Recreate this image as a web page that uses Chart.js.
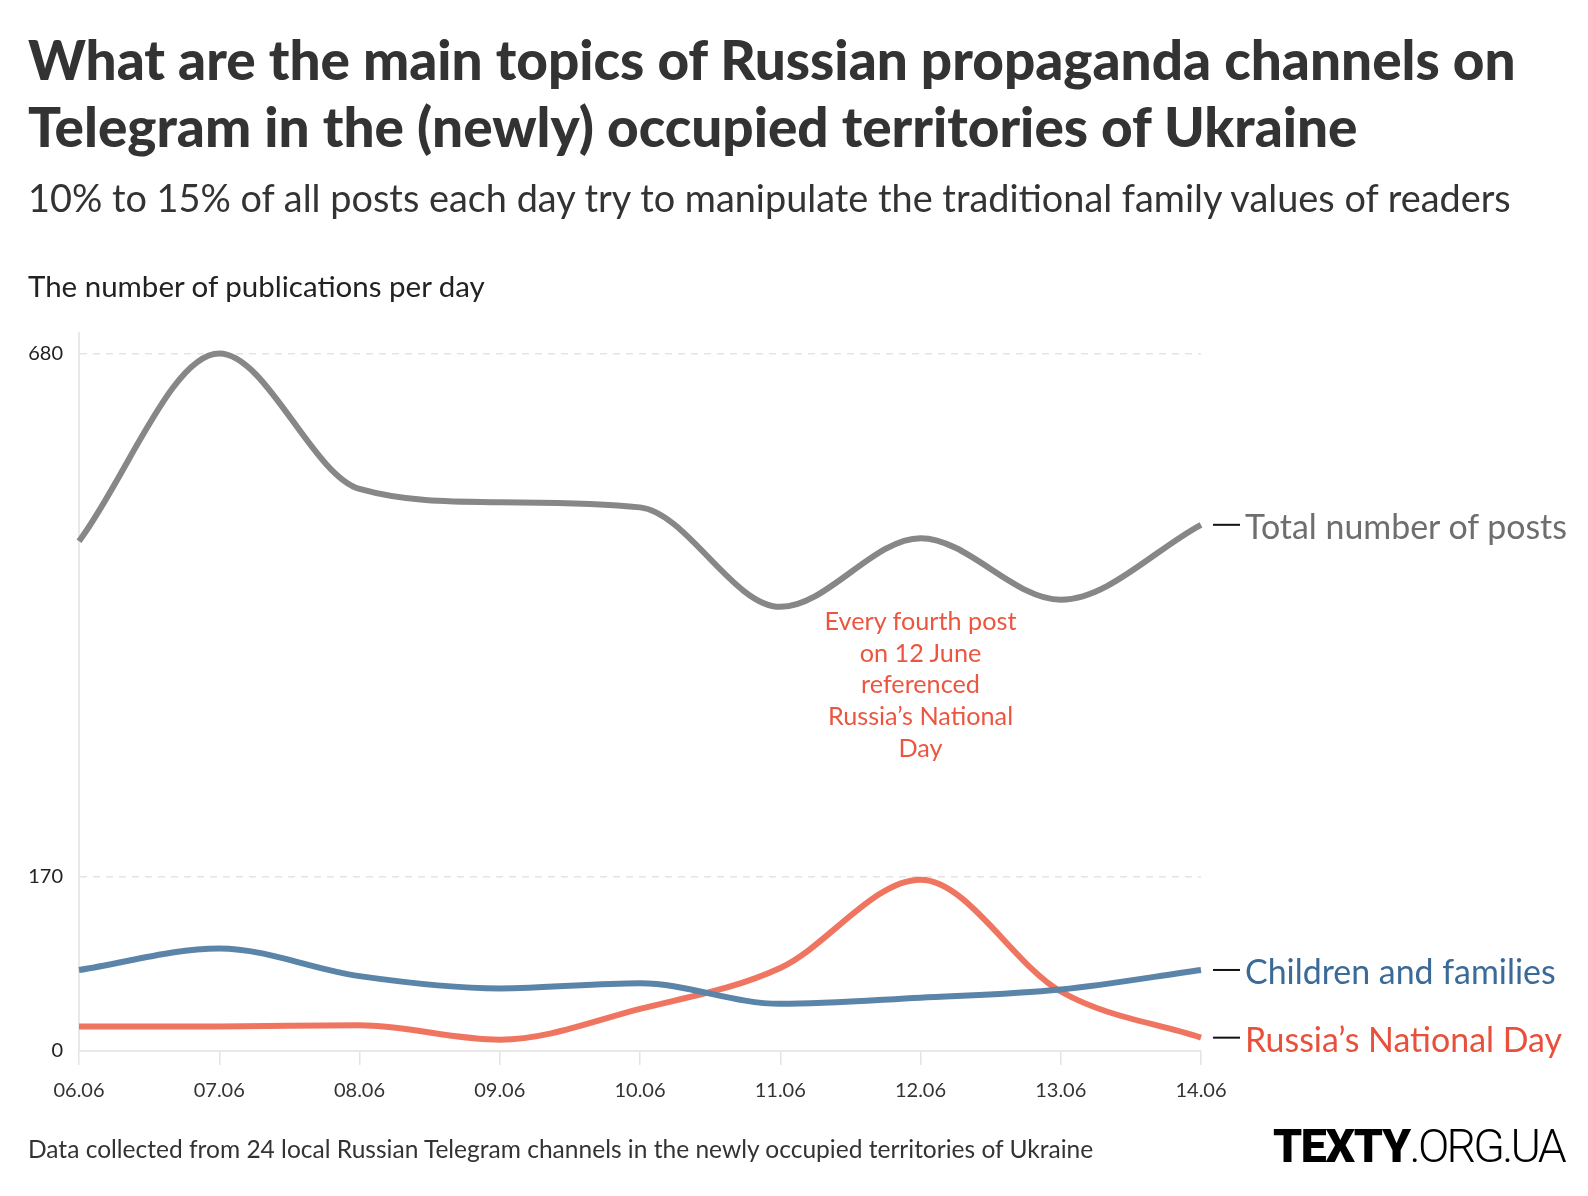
<!DOCTYPE html>
<html>
<head>
<meta charset="utf-8">
<script src="https://cdn.jsdelivr.net/npm/chart.js@4.4.1/dist/chart.umd.min.js"></script>
<style>
html,body{margin:0;padding:0;background:#fff;}
body{width:1588px;height:1196px;position:relative;overflow:hidden;font-family:Lato,"Noto Sans",sans-serif;}
#wrap{position:absolute;left:0;top:0;width:1588px;height:1196px;}
.t{position:absolute;white-space:nowrap;left:0;top:0;}
</style>
</head>
<body>
<div id="wrap"><canvas id="c" width="1588" height="1196"></canvas></div>
<div class="t" id="title1" style="font-weight:900;color:#333;">What are the main topics of Russian propaganda channels on</div>
<div class="t" id="title2" style="font-weight:900;color:#333;">Telegram in the (newly) occupied territories of Ukraine</div>
<div class="t" id="subtitle" style="color:#333;">10% to 15% of all posts each day try to manipulate the traditional family values of readers</div>
<div class="t" id="ytitle" style="color:#222;">The number of publications per day</div>
<div class="t" id="footer" style="color:#333;">Data collected from 24 local Russian Telegram channels in the newly occupied territories of Ukraine</div>
<div class="t" id="logo" style="color:#000;font-family:Roboto,sans-serif;"><span style="font-weight:900;letter-spacing:-0.03em;">TEXTY</span><span style="font-weight:300;letter-spacing:-0.06em;">.ORG.UA</span></div>
<div class="t" id="lab0" style="color:#6e6e6e;">Total number of posts</div>
<div class="t" id="lab1" style="color:#3b6a97;">Children and families</div>
<div class="t" id="lab2" style="color:#e9503b;">Russia’s National Day</div>
<div class="t" id="ann0" style="color:#ec5640;">Every fourth post</div>
<div class="t" id="ann1" style="color:#ec5640;">on 12 June</div>
<div class="t" id="ann2" style="color:#ec5640;">referenced</div>
<div class="t" id="ann3" style="color:#ec5640;">Russia’s National</div>
<div class="t" id="ann4" style="color:#ec5640;">Day</div>
<script>
// ---- data ----
const categories = ['06.06','07.06','08.06','09.06','10.06','11.06','12.06','13.06','14.06'];
const totalPosts = [497, 680, 548, 535, 530, 433, 500, 440, 513];
const childrenFamilies = [79, 100, 73, 61, 66, 46, 52, 60, 79];
const nationalDay = [24, 24, 25, 11, 41, 81, 167, 58, 13];
const yTicks = [0, 170, 680];
const seriesNames = ['Total number of posts', 'Children and families', 'Russia’s National Day'];
const annotationCategory = '12.06';

// ---- text placement helper ----
function place(id, o) {
  const el = document.getElementById(id);
  let fs = o.fontSize;
  if (o.width) {
    el.style.fontSize = '100px';
    el.style.lineHeight = '1';
    const w = el.getBoundingClientRect().width;
    fs = 100 * o.width / w;
  }
  el.style.fontSize = fs + 'px';
  el.style.lineHeight = '1';
  const probe = document.createElement('span');
  probe.style.cssText = 'display:inline-block;width:0;height:0;vertical-align:baseline;';
  el.appendChild(probe);
  const b = probe.getBoundingClientRect().top - el.getBoundingClientRect().top;
  el.removeChild(probe);
  const w2 = el.getBoundingClientRect().width;
  const left = (o.center != null) ? o.center - w2 / 2 : o.left;
  el.style.left = left + 'px';
  el.style.top = (o.baseline - b) + 'px';
  return fs;
}

const tfs = place('title1', {left: 28, baseline: 80, width: 1488});
place('title2', {left: 28, baseline: 147, fontSize: tfs});
place('subtitle', {left: 28, baseline: 212, width: 1483});
place('ytitle', {left: 28, baseline: 297, width: 457});
place('footer', {left: 28, baseline: 1158, width: 1066});
place('logo', {left: 1273, baseline: 1162, width: 291});

const lineColors = ['#878787', '#5b84a9', '#f07561'];

const endPlugin = {
  id: 'endLabels',
  afterDatasetsDraw(chart) {
    const ctx = chart.ctx;
    const right = chart.chartArea.right;
    ctx.save();
    ctx.strokeStyle = '#111';
    ctx.lineWidth = 2;
    chart.data.datasets.forEach((ds, i) => {
      const meta = chart.getDatasetMeta(i);
      const pt = meta.data[meta.data.length - 1];
      ctx.beginPath();
      ctx.moveTo(right + 12, pt.y);
      ctx.lineTo(right + 39, pt.y);
      ctx.stroke();
    });
    ctx.restore();
  }
};

const chart = new Chart(document.getElementById('c'), {
  type: 'line',
  data: {
    labels: categories,
    datasets: [
      {label: seriesNames[0], data: totalPosts, borderColor: lineColors[0]},
      {label: seriesNames[1], data: childrenFamilies, borderColor: lineColors[1]},
      {label: seriesNames[2], data: nationalDay, borderColor: lineColors[2]}
    ]
  },
  options: {
    responsive: false,
    animation: false,
    layout: {padding: {top: 333, right: 387, left: 0, bottom: 0}},
    plugins: {legend: {display: false}, tooltip: {enabled: false}, title: {display: false}},
    elements: {
      point: {radius: 0, hoverRadius: 0},
      line: {borderWidth: 6, cubicInterpolationMode: 'monotone', borderCapStyle: 'butt', fill: false}
    },
    scales: {
      x: {
        grid: {drawOnChartArea: false, drawTicks: true, tickLength: 14, color: '#e4e4e4', lineWidth: 1.5},
        border: {color: '#e8e8e8', width: 2},
        ticks: {font: {family: 'Lato', size: 20}, color: '#333', padding: 14, maxRotation: 0, autoSkip: false},
        afterFit(s) { s.height = 145; }
      },
      y: {
        min: 0, max: 700,
        afterBuildTicks(s) { s.ticks = yTicks.map(v => ({value: v})); },
        grid: {drawTicks: false, color: c => (c.tick && c.tick.value === 0) ? 'rgba(0,0,0,0)' : '#e4e4e4', lineWidth: 1.5},
        border: {display: true, color: '#e8e8e8', width: 2, dash: [7, 6]},
        ticks: {font: {family: 'Lato', size: 20}, color: '#222', padding: 16},
        afterFit(s) { s.width = 79; }
      }
    }
  },
  plugins: [endPlugin]
});

// end labels positioned from the data end points
(() => {
  const area = chart.chartArea;
  let fs = null;
  ['lab0', 'lab1', 'lab2'].forEach((id, i) => {
    const meta = chart.getDatasetMeta(i);
    const pt = meta.data[meta.data.length - 1];
    if (i === 0) fs = place(id, {left: area.right + 44, baseline: pt.y + 14, width: 322});
    else place(id, {left: area.right + 44, baseline: pt.y + 14, fontSize: fs});
  });
})();

// annotation centred on 12.06
const ax = chart.scales.x.getPixelForValue(categories.indexOf(annotationCategory));
const afs = place('ann0', {center: ax, baseline: 630, width: 192});
['ann1', 'ann2', 'ann3', 'ann4'].forEach((id, i) => {
  place(id, {center: ax, baseline: 630 + (i + 1) * 31.7, fontSize: afs});
});
</script>
</body>
</html>
